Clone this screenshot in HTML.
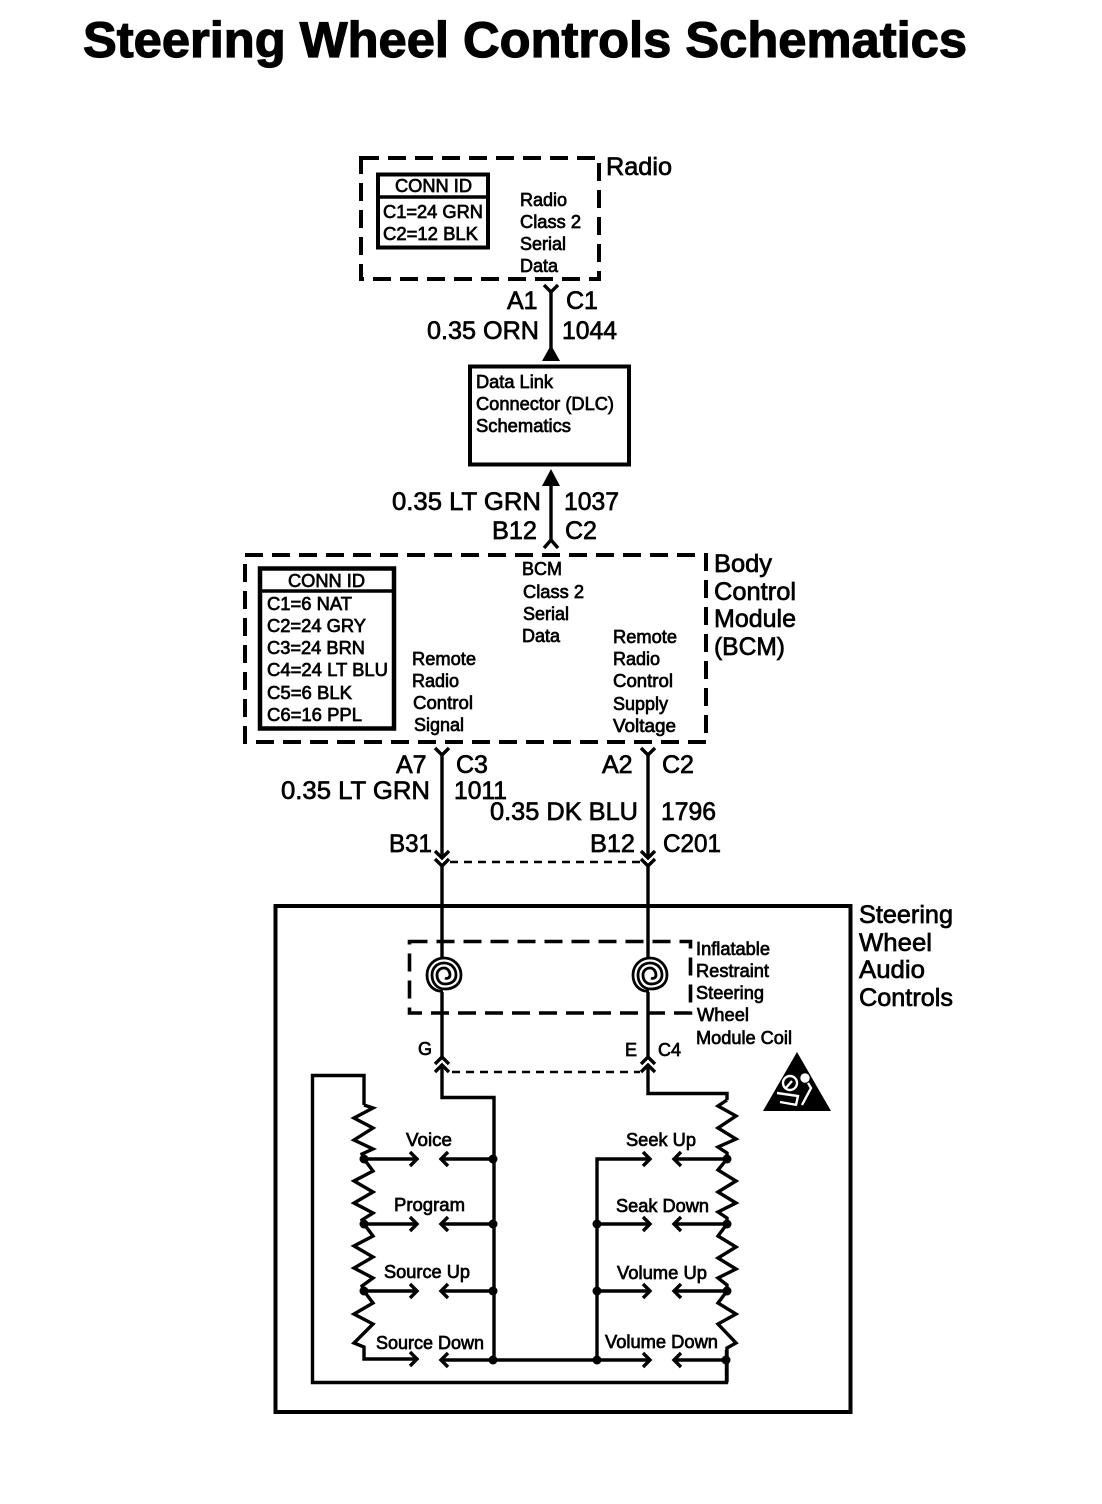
<!DOCTYPE html>
<html><head><meta charset="utf-8"><style>
html,body{margin:0;padding:0;background:#fff}
svg{display:block}
text{font-family:"Liberation Sans",sans-serif;fill:#000;stroke:#000;stroke-width:.7}
.s{font-size:18px}
.m{font-size:25px;stroke-width:.7}
.n{fill:none;stroke:#000;stroke-width:3.4}
.d{fill:none;stroke:#000;stroke-width:4;stroke-dasharray:18 9}
.t{fill:none;stroke:#000;stroke-width:2.4;stroke-dasharray:8 6}
</style></head><body>
<svg width="1102" height="1504" viewBox="0 0 1102 1504" xmlns="http://www.w3.org/2000/svg">
<defs>
<path id="ar" d="M-7-7L0 0L-7 7" fill="none" stroke="#000" stroke-width="3.4"/>
<path id="al" d="M7-7L0 0L7 7" fill="none" stroke="#000" stroke-width="3.4"/>
<g id="spiral"><path d="M-1 16C-10 17-17 10-17 0C-17-10-9-17 0-17C10-17 17-9 17 0C17 9 10 14 1 14C-7 14-12 8-12 0C-12-7-7-12 0-12C7-12 12-7 12 0C12 6 7 9 1 9C-4 9-7 5-7 0C-7-4-4-7 0-7C4-7 6-3 6 0C6 3 3 4 1 3" fill="none" stroke="#000" stroke-width="2.8"/></g>
</defs>

<text x="83" y="57" style="font-size:50px;font-weight:bold;stroke-width:1.2" textLength="884" lengthAdjust="spacingAndGlyphs">Steering Wheel Controls Schematics</text>

<!-- Radio -->
<rect class="d" x="361" y="158" width="238" height="121"/>
<rect x="378" y="174.500" width="110" height="73" fill="none" stroke="#000" stroke-width="4"/>
<path class="n" d="M378 197H488"/>
<text class="m" x="606" y="175" textLength="66" lengthAdjust="spacingAndGlyphs">Radio</text>
<text class="s" x="395" y="192" textLength="77" lengthAdjust="spacingAndGlyphs">CONN ID</text>
<text class="s" x="383" y="218" textLength="100" lengthAdjust="spacingAndGlyphs">C1=24 GRN</text>
<text class="s" x="383" y="240" textLength="95" lengthAdjust="spacingAndGlyphs">C2=12 BLK</text>
<text class="s" x="520" y="206">Radio</text>
<text class="s" x="520" y="228" textLength="61" lengthAdjust="spacingAndGlyphs">Class 2</text>
<text class="s" x="520" y="250">Serial</text>
<text class="s" x="520" y="272">Data</text>

<!-- Radio to DLC -->
<path class="n" d="M551 292V350M544 285L551 292L558 285"/>
<path d="M551 345L560 361H542Z"/>
<text class="m" x="507" y="309">A1</text>
<text class="m" x="566" y="309">C1</text>
<text class="m" x="427" y="339" textLength="112" lengthAdjust="spacingAndGlyphs">0.35 ORN</text>
<text class="m" x="562" y="339" textLength="55" lengthAdjust="spacingAndGlyphs">1044</text>

<!-- DLC -->
<rect x="470" y="366.500" width="159" height="98" fill="none" stroke="#000" stroke-width="4"/>
<text class="s" x="476" y="388" textLength="77" lengthAdjust="spacingAndGlyphs">Data Link</text>
<text class="s" x="476" y="410" textLength="138" lengthAdjust="spacingAndGlyphs">Connector (DLC)</text>
<text class="s" x="476" y="432" textLength="95" lengthAdjust="spacingAndGlyphs">Schematics</text>

<!-- DLC to BCM -->
<path d="M551 469L560 486H542Z"/>
<path class="n" d="M551 484V540M544 548L551 540L558 548"/>
<text class="m" x="392" y="510" textLength="149" lengthAdjust="spacingAndGlyphs">0.35 LT GRN</text>
<text class="m" x="564" y="510" textLength="55" lengthAdjust="spacingAndGlyphs">1037</text>
<text class="m" x="492" y="539" textLength="45" lengthAdjust="spacingAndGlyphs">B12</text>
<text class="m" x="565" y="539">C2</text>

<!-- BCM -->
<rect class="d" x="245" y="555" width="461" height="187"/>
<rect x="260" y="568.500" width="134" height="160" fill="none" stroke="#000" stroke-width="4.5"/>
<path class="n" d="M260 591H394"/>
<text class="s" x="288" y="587" textLength="77" lengthAdjust="spacingAndGlyphs">CONN ID</text>
<text class="s" x="267" y="610" textLength="85" lengthAdjust="spacingAndGlyphs">C1=6 NAT</text>
<text class="s" x="267" y="632" textLength="99" lengthAdjust="spacingAndGlyphs">C2=24 GRY</text>
<text class="s" x="267" y="654" textLength="98" lengthAdjust="spacingAndGlyphs">C3=24 BRN</text>
<text class="s" x="267" y="676" textLength="121" lengthAdjust="spacingAndGlyphs">C4=24 LT BLU</text>
<text class="s" x="267" y="699" textLength="85" lengthAdjust="spacingAndGlyphs">C5=6 BLK</text>
<text class="s" x="267" y="721" textLength="95" lengthAdjust="spacingAndGlyphs">C6=16 PPL</text>
<text class="s" x="522" y="575">BCM</text>
<text class="s" x="523" y="598" textLength="61" lengthAdjust="spacingAndGlyphs">Class 2</text>
<text class="s" x="523" y="620">Serial</text>
<text class="s" x="522" y="642">Data</text>
<text class="s" x="412" y="665" textLength="64" lengthAdjust="spacingAndGlyphs">Remote</text>
<text class="s" x="412" y="687">Radio</text>
<text class="s" x="413" y="709" textLength="60" lengthAdjust="spacingAndGlyphs">Control</text>
<text class="s" x="414" y="731">Signal</text>
<text class="s" x="613" y="643" textLength="64" lengthAdjust="spacingAndGlyphs">Remote</text>
<text class="s" x="613" y="665">Radio</text>
<text class="s" x="613" y="687" textLength="60" lengthAdjust="spacingAndGlyphs">Control</text>
<text class="s" x="613" y="710">Supply</text>
<text class="s" x="613" y="732" textLength="63" lengthAdjust="spacingAndGlyphs">Voltage</text>
<text class="m" x="714" y="572" textLength="58" lengthAdjust="spacingAndGlyphs">Body</text>
<text class="m" x="714" y="600" textLength="82" lengthAdjust="spacingAndGlyphs">Control</text>
<text class="m" x="714" y="627" textLength="82" lengthAdjust="spacingAndGlyphs">Module</text>
<text class="m" x="714" y="655" textLength="71" lengthAdjust="spacingAndGlyphs">(BCM)</text>

<!-- Wires BCM down -->
<path class="n" d="M442 755V858M435 748L442 755L449 748M435 851L442 858L449 851"/>
<path class="n" d="M648 755V858M641 748L648 755L655 748M641 851L648 858L655 851"/>
<path class="n" d="M435 859L442 866L449 859M641 859L648 866L655 859"/>
<path class="t" d="M450 862H640"/>
<text class="m" x="396" y="773">A7</text>
<text class="m" x="456" y="773">C3</text>
<text class="m" x="602" y="773">A2</text>
<text class="m" x="662" y="773">C2</text>
<text class="m" x="281" y="799" textLength="149" lengthAdjust="spacingAndGlyphs">0.35 LT GRN</text>
<text class="m" x="454" y="799" textLength="53" lengthAdjust="spacingAndGlyphs">1011</text>
<text class="m" x="490" y="820" textLength="148" lengthAdjust="spacingAndGlyphs">0.35 DK BLU</text>
<text class="m" x="661" y="820" textLength="55" lengthAdjust="spacingAndGlyphs">1796</text>
<text class="m" x="389" y="852" textLength="43" lengthAdjust="spacingAndGlyphs">B31</text>
<text class="m" x="590" y="852" textLength="45" lengthAdjust="spacingAndGlyphs">B12</text>
<text class="m" x="663" y="852" textLength="58" lengthAdjust="spacingAndGlyphs">C201</text>

<!-- Outer box -->
<rect x="275.500" y="906" width="575" height="506" fill="none" stroke="#000" stroke-width="4"/>
<text class="m" x="859" y="923" textLength="94" lengthAdjust="spacingAndGlyphs">Steering</text>
<text class="m" x="859" y="951" textLength="73" lengthAdjust="spacingAndGlyphs">Wheel</text>
<text class="m" x="859" y="978" textLength="66" lengthAdjust="spacingAndGlyphs">Audio</text>
<text class="m" x="859" y="1006" textLength="94" lengthAdjust="spacingAndGlyphs">Controls</text>

<!-- Coil -->
<rect class="d" x="409.500" y="941.500" width="281" height="71.500" style="stroke-width:3.6"/>
<path class="n" d="M442 866V958M442 992V1057M648 866V958M648 992V1057"/>
<use href="#spiral" x="444" y="975"/>
<use href="#spiral" x="650" y="975"/>
<text class="s" x="696" y="955" textLength="74" lengthAdjust="spacingAndGlyphs">Inflatable</text>
<text class="s" x="696" y="977" textLength="73" lengthAdjust="spacingAndGlyphs">Restraint</text>
<text class="s" x="696" y="999" textLength="68" lengthAdjust="spacingAndGlyphs">Steering</text>
<text class="s" x="697" y="1021" textLength="52" lengthAdjust="spacingAndGlyphs">Wheel</text>
<text class="s" x="696" y="1044" textLength="96" lengthAdjust="spacingAndGlyphs">Module Coil</text>
<text class="s" x="418" y="1055">G</text>
<text class="s" x="625" y="1056">E</text>
<text class="s" x="658" y="1056">C4</text>
<path class="n" d="M435 1064L442 1057L449 1064M641 1064L648 1057L655 1064"/>
<path class="n" d="M435 1072L442 1065L449 1072M641 1072L648 1065L655 1072"/>
<path class="t" d="M452 1072H640"/>

<!-- Triangle icon -->
<path d="M797 1052L831 1111H763Z"/>
<g fill="none" stroke="#fff" stroke-width="2.4">
<circle cx="790" cy="1083" r="7"/><path d="M785 1089L792 1081"/>
<circle cx="805" cy="1078" r="3.5" fill="#fff"/>
<path d="M808 1083L811 1088L802 1105M777 1093L798 1096L796 1105M780 1102L797 1105"/>
</g>

<!-- Left ladder -->
<path class="n" d="M442 1065V1097.500H494V1360"/>
<path class="n" d="M364 1105V1075.500H312.500V1382.500H726.500V1350"/>
<path class="n" d="M364 1105L373 1108L354 1118L373 1128L354 1140L373 1149L362 1154L364 1159L373 1171L354 1181L373 1192L354 1203L373 1213L362 1220L364 1224L373 1236L354 1246L373 1257L354 1268L373 1278L362 1286L364 1291L373 1303L354 1314L373 1324L354 1343L364 1347V1359H417"/>
<path class="n" d="M364 1159H417M364 1224H417M364 1291H417"/>
<path class="n" d="M441 1159H494M441 1224H494M441 1291H494M441 1360H597"/>
<use href="#ar" x="417" y="1159"/><use href="#ar" x="417" y="1224"/><use href="#ar" x="417" y="1291"/><use href="#ar" x="417" y="1359"/>
<use href="#al" x="441" y="1159"/><use href="#al" x="441" y="1224"/><use href="#al" x="441" y="1291"/><use href="#al" x="441" y="1360"/>
<g><circle cx="364" cy="1159" r="4.5"/><circle cx="364" cy="1224" r="4.5"/><circle cx="364" cy="1291" r="4.5"/>
<circle cx="493" cy="1159" r="4.5"/><circle cx="493" cy="1224" r="4.5"/><circle cx="493" cy="1291" r="4.5"/><circle cx="493" cy="1360" r="4.5"/></g>
<text class="s" x="406" y="1146" textLength="46" lengthAdjust="spacingAndGlyphs">Voice</text>
<text class="s" x="394" y="1211" textLength="71" lengthAdjust="spacingAndGlyphs">Program</text>
<text class="s" x="384" y="1278" textLength="86" lengthAdjust="spacingAndGlyphs">Source Up</text>
<text class="s" x="376" y="1349" textLength="108" lengthAdjust="spacingAndGlyphs">Source Down</text>

<!-- Right ladder -->
<path class="n" d="M648 1065V1093.500H727V1100"/>
<path class="n" d="M727 1100L718 1106L736 1116L718 1128L736 1139L718 1147L727 1153L727 1159L718 1170L736 1181L718 1192L736 1203L718 1212L727 1218L727 1224L718 1236L736 1247L718 1258L736 1269L718 1278L727 1285L727 1291L718 1303L736 1314L718 1324L736 1343L727 1348V1382"/>
<path class="n" d="M650 1159H597V1360H650M597 1224H650M597 1291H650"/>
<path class="n" d="M674 1159H727M674 1224H727M674 1291H727M674 1360H727"/>
<use href="#ar" x="650" y="1159"/><use href="#ar" x="650" y="1224"/><use href="#ar" x="650" y="1291"/><use href="#ar" x="650" y="1360"/>
<use href="#al" x="674" y="1159"/><use href="#al" x="674" y="1224"/><use href="#al" x="674" y="1291"/><use href="#al" x="674" y="1360"/>
<g><circle cx="727" cy="1159" r="4.5"/><circle cx="727" cy="1224" r="4.5"/><circle cx="727" cy="1291" r="4.5"/><circle cx="726" cy="1360" r="4.5"/>
<circle cx="597" cy="1224" r="4.5"/><circle cx="597" cy="1291" r="4.5"/><circle cx="597" cy="1360" r="4.5"/></g>
<text class="s" x="626" y="1146" textLength="70" lengthAdjust="spacingAndGlyphs">Seek Up</text>
<text class="s" x="616" y="1212" textLength="93" lengthAdjust="spacingAndGlyphs">Seak Down</text>
<text class="s" x="617" y="1279" textLength="90" lengthAdjust="spacingAndGlyphs">Volume Up</text>
<text class="s" x="605" y="1348" textLength="113" lengthAdjust="spacingAndGlyphs">Volume Down</text>
</svg>
</body></html>
